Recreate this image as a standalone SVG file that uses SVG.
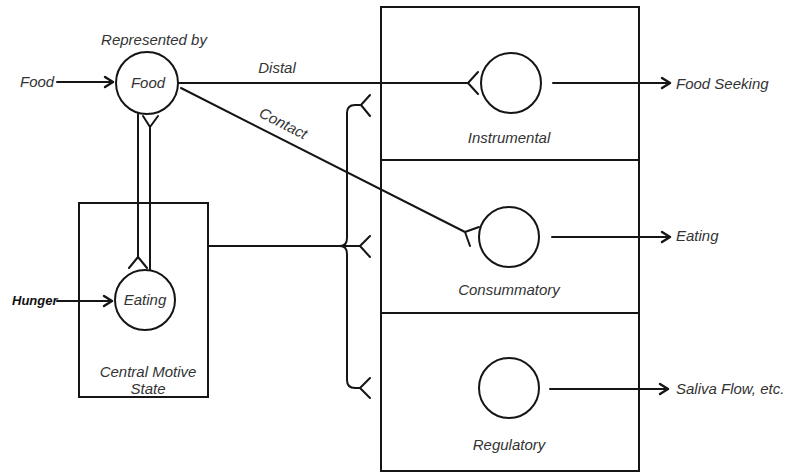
<svg xmlns="http://www.w3.org/2000/svg" width="785" height="475" viewBox="0 0 785 475">
  <style>
    .ln { fill: none; stroke: #151515; stroke-width: 2; stroke-linecap: round; stroke-linejoin: round; }
    .nd { fill: none; stroke: #151515; stroke-width: 2; }
    .tx { font-family: "Liberation Sans", Arial, sans-serif; font-style: italic; font-size: 15px; fill: #333333; }
    .mid { text-anchor: middle; }
    .bold { font-weight: bold; font-size: 13px; fill: #111111; }
  </style>
  <defs>
    <marker id="arrow" markerUnits="userSpaceOnUse" markerWidth="14" markerHeight="14" viewBox="-11 -7 14 14" refX="0" refY="0" orient="auto">
      <path d="M-8,-5 L0,0 L-8,5" fill="none" stroke="#151515" stroke-width="2.4" stroke-linecap="round" stroke-linejoin="round"/>
    </marker>
  </defs>
  <rect width="785" height="475" fill="#ffffff"/>

  <!-- Central motive state box with its Eating unit -->
  <g id="central-motive-state">
    <rect class="nd" x="79" y="203" width="129" height="194"/>
    <circle class="nd" cx="145" cy="300" r="30"/>
    <text class="tx mid" x="145" y="305">Eating</text>
    <text class="tx mid" x="148" y="377">Central Motive</text>
    <text class="tx mid" x="148" y="394">State</text>
  </g>

  <!-- Food representation -->
  <g id="food">
    <text class="tx mid" x="154" y="45">Represented by</text>
    <circle class="nd" cx="147" cy="83" r="31"/>
    <text class="tx mid" x="148" y="88">Food</text>
  </g>

  <!-- Response systems -->
  <g id="instrumental">
    <rect class="nd" x="381" y="7" width="258" height="153"/>
    <circle class="nd" cx="511" cy="83" r="30"/>
    <text class="tx mid" x="509" y="143">Instrumental</text>
  </g>
  <g id="consummatory">
    <rect class="nd" x="381" y="160" width="258" height="153"/>
    <circle class="nd" cx="509" cy="237" r="30"/>
    <text class="tx mid" x="509" y="295">Consummatory</text>
  </g>
  <g id="regulatory">
    <rect class="nd" x="381" y="313" width="258" height="158"/>
    <circle class="nd" cx="509" cy="388" r="30"/>
    <text class="tx mid" x="509" y="450">Regulatory</text>
  </g>

  <!-- Inputs and outputs -->
  <g id="input-food"><text class="tx" x="20" y="87">Food</text></g>
  <g id="input-hunger"><text class="tx bold" x="12" y="305">Hunger</text></g>
  <g id="output-food-seeking"><text class="tx" x="676" y="89">Food Seeking</text></g>
  <g id="output-eating"><text class="tx" x="676" y="241">Eating</text></g>
  <g id="output-saliva"><text class="tx" x="676" y="394">Saliva Flow, etc.</text></g>

  <g id="connectors">
    <!-- external inputs -->
    <line class="ln" x1="57" y1="82" x2="113" y2="82" marker-end="url(#arrow)"/>
    <line class="ln" x1="57" y1="301" x2="112" y2="301" marker-end="url(#arrow)"/>

    <!-- outputs -->
    <line class="ln" x1="553" y1="83" x2="670" y2="83" marker-end="url(#arrow)"/>
    <line class="ln" x1="552" y1="237" x2="670" y2="237" marker-end="url(#arrow)"/>
    <line class="ln" x1="550" y1="389" x2="668" y2="389" marker-end="url(#arrow)"/>

    <!-- distal pathway -->
    <path class="ln" d="M179,83 L468,83 M478,72 L468,83 L478,94"/>
    <text class="tx mid" x="277" y="73">Distal</text>

    <!-- contact pathway -->
    <path class="ln" d="M181,88 L465,232 M479,227 L465,232 L470,246"/>
    <text class="tx mid" x="281" y="128" transform="rotate(26.9 281 128)">Contact</text>

    <!-- reciprocal links between food representation and central state -->
    <path class="ln" d="M138,114 L138,257 M129,268 L138,257 L147,268"/>
    <path class="ln" d="M150,270 L150,127 M143,116 L150,127 L158,116"/>

    <!-- central state fan-out brace -->
    <path class="ln" d="M208,246 L360,246 M370,236 L360,246 L370,257"/>
    <path class="ln" d="M361,105 L355,105 Q347,105 347,113 L347,238 Q347,246 340,246 Q347,246 347,254 L347,380 Q347,388 355,388 L360,388"/>
    <path class="ln" d="M370,95 L361,105 L370,116"/>
    <path class="ln" d="M370,378 L360,388 L370,398"/>
  </g>
</svg>
